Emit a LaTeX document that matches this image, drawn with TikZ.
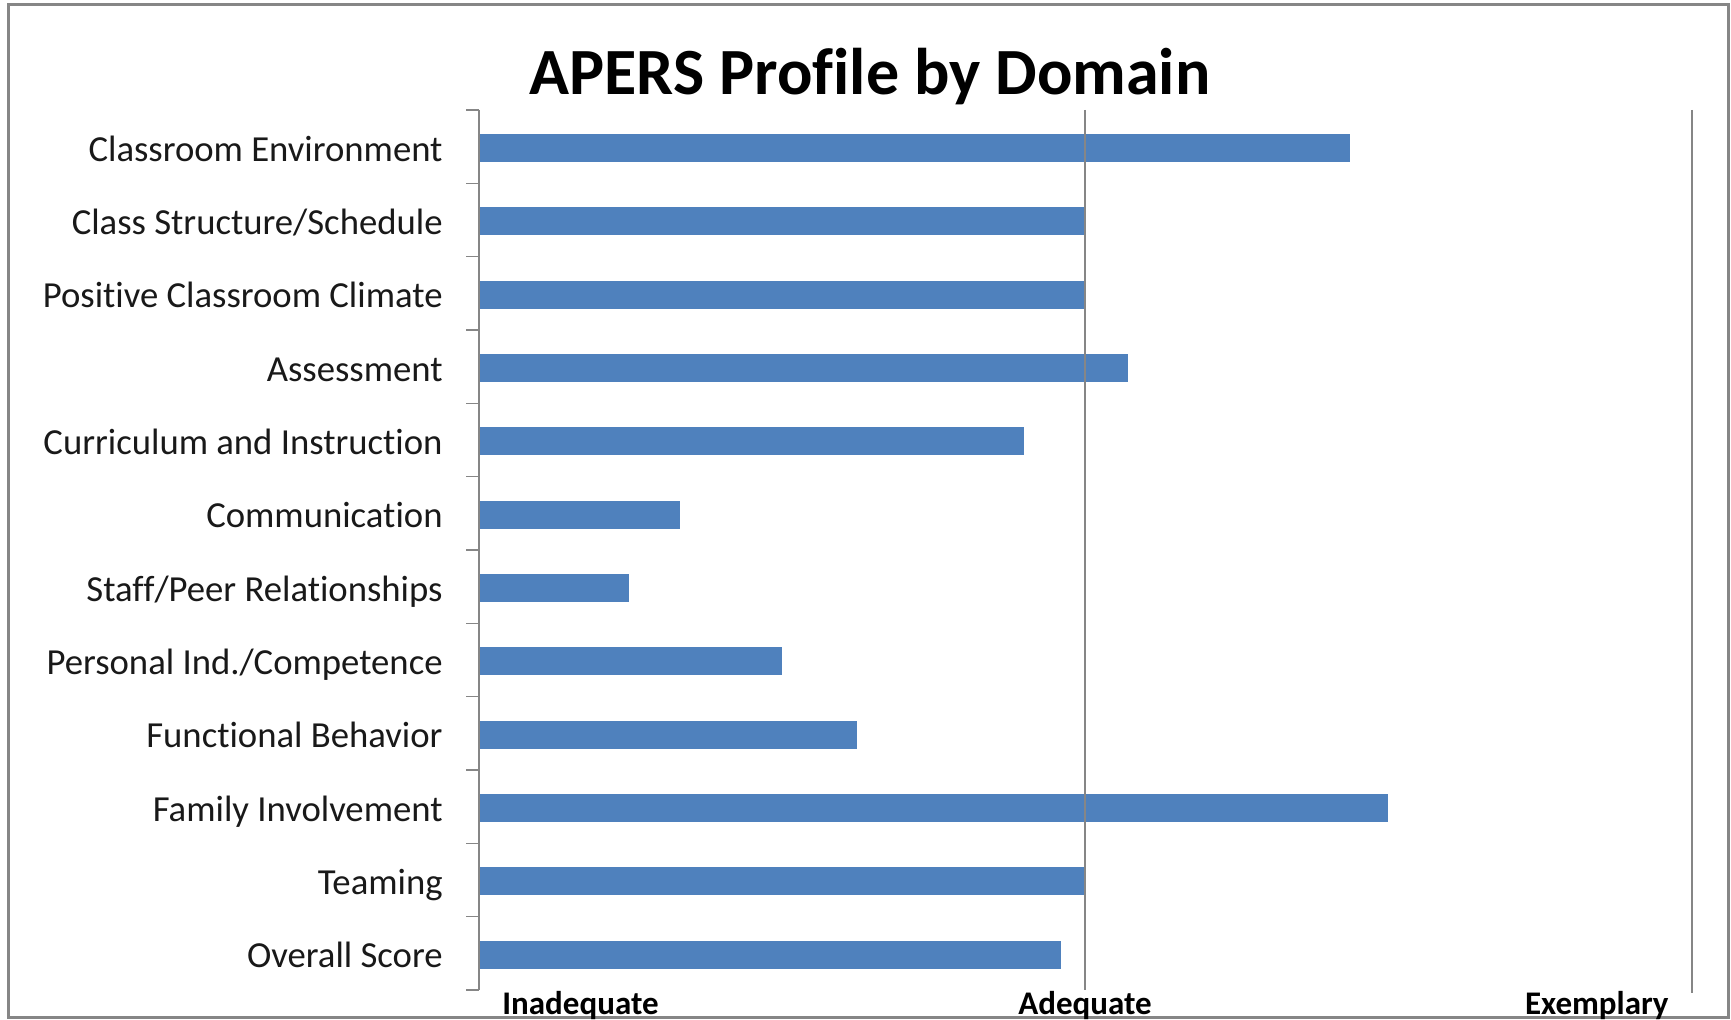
\documentclass[tikz,border=0pt]{standalone}
\usepackage{fontspec}
\setmainfont{Carlito}[Ligatures={NoCommon}]
\definecolor{barblue}{HTML}{4F81BD}
\definecolor{axisgray}{HTML}{868686}
\begin{document}
\begin{tikzpicture}[x=0.5pt,y=-0.5pt,
  bar/.style={fill=barblue},
  catlabel/.style={anchor=base east,font=\fontsize{18.35}{20}\selectfont,text=black!90,inner sep=0pt},
  axlabel/.style={font=\bfseries\fontsize{16.5}{18}\selectfont,inner sep=0pt},
  gridline/.style={draw=axisgray,line width=0.75pt}]
\useasboundingbox (0,0) rectangle (1731,1020);
\fill[white] (0,0) rectangle (1731,1020);
\draw[axisgray,line width=1.5pt] (8,5) rectangle (1728,1018);
\node[font=\bfseries\fontsize{33}{36}\selectfont,anchor=base,inner sep=0pt] (title) at (870,95) {APERS Profile by Domain};
% bars and labels
\foreach \i/\v/\t in {1/1350/Classroom Environment,2/1085/Class Structure\slash Schedule,3/1085/Positive Classroom Climate,4/1128/Assessment,5/1024/Curriculum and Instruction,6/680/Communication,7/629/Staff\slash Peer Relationships,8/782/Personal Ind.\slash Competence,9/857/Functional Behavior,10/1388/Family Involvement,11/1085/Teaming,12/1061/Overall Score}{
  \pgfmathsetmacro{\yc}{110+(\i-0.5)*73.333+1.5}
  \fill[bar] (479,\yc-14) rectangle (\v,\yc+14);
  \node[catlabel] (lab\i) at (443,\yc+13) {\t};
}
% gridlines
\draw[gridline] (1085,110) -- (1085,990);
\draw[gridline] (1692,110) -- (1692,993);
% axis
\draw[gridline] (479,110) -- (479,990);
\foreach \k in {0,...,12}{
  \draw[gridline] (466,110+\k*73.333) -- (479,110+\k*73.333);
}
\node[axlabel,anchor=base west] (inad) at (502,1015) {Inadequate};
\node[axlabel,anchor=base] (adeq) at (1085,1015) {Adequate};
\node[axlabel,anchor=base east] (exem) at (1669,1015) {Exemplary};
\end{tikzpicture}
\end{document}
